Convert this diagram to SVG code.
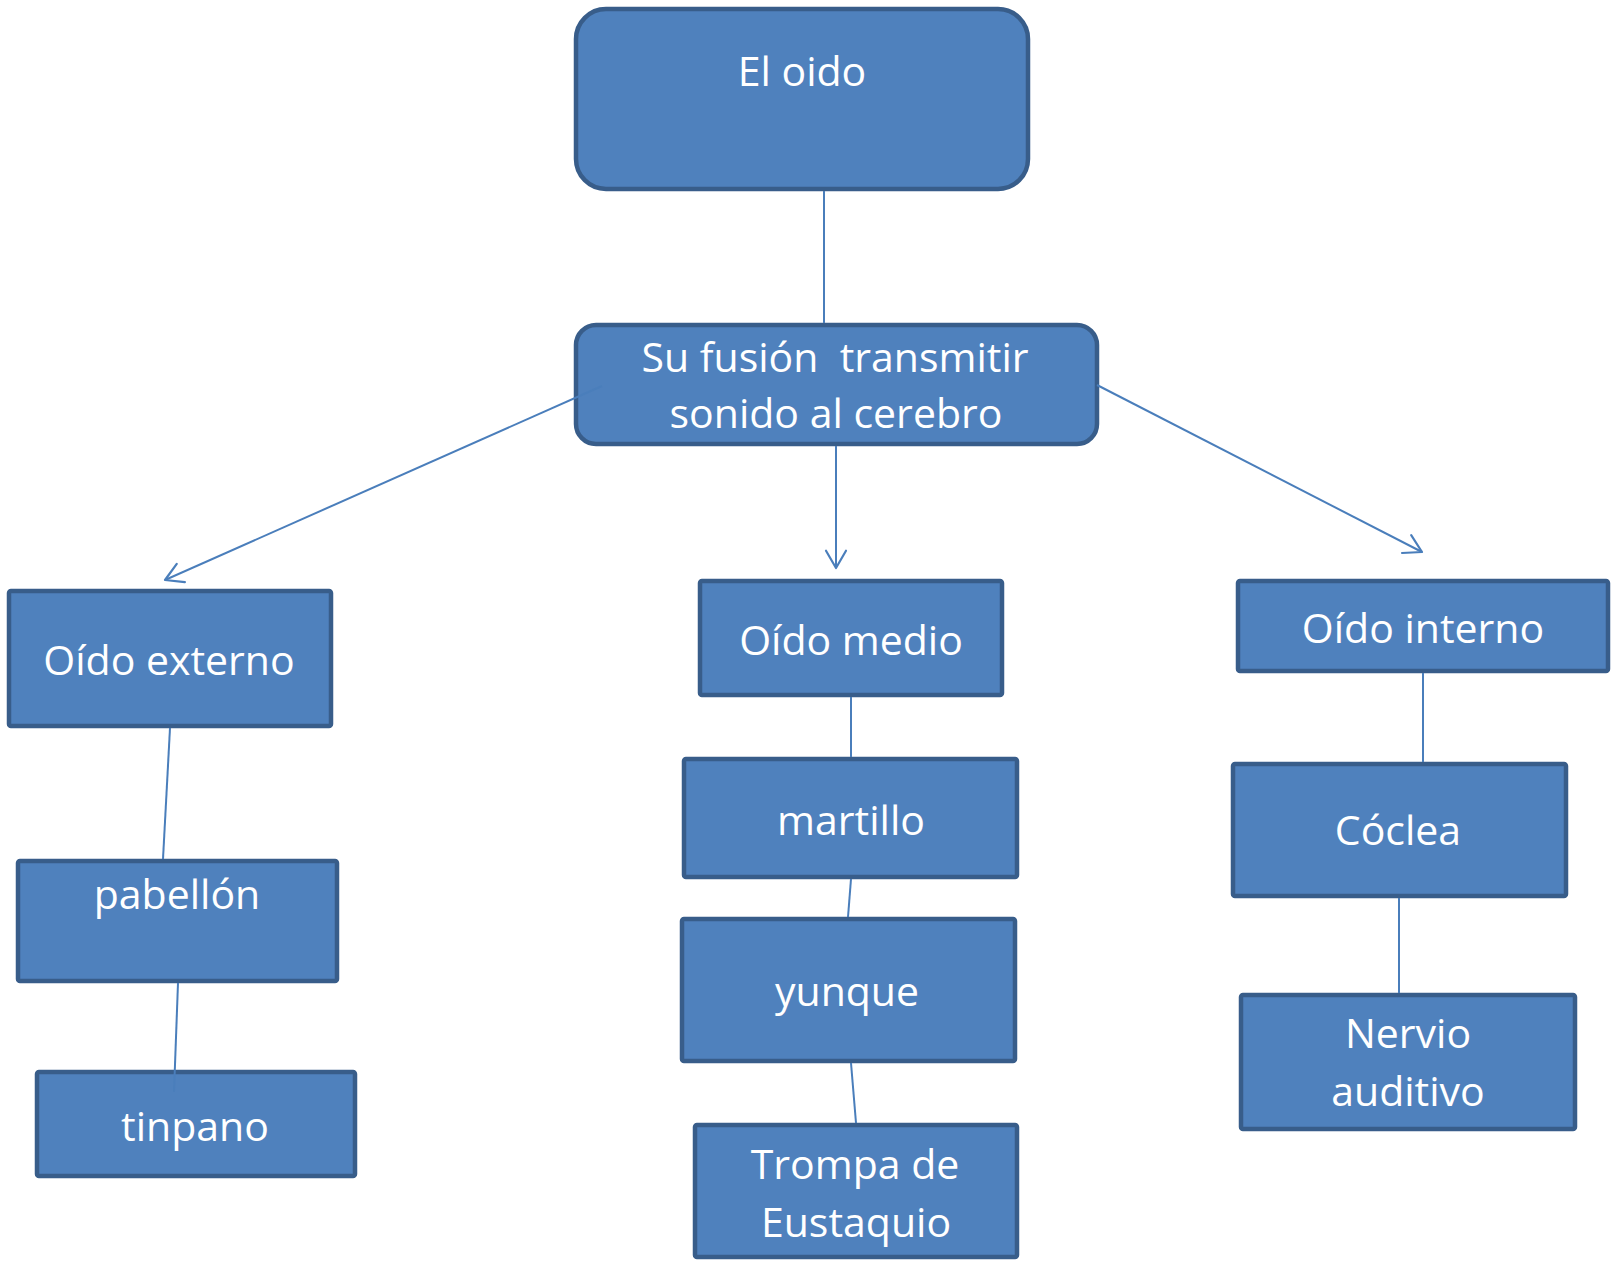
<svg xmlns="http://www.w3.org/2000/svg" width="1614" height="1261" viewBox="0 0 1614 1261">
<style>
.box{fill:#4f81bd;stroke:#385d8a;stroke-width:4.5}
.lbl{font-family:"Open Sans","Liberation Sans",sans-serif;font-size:41px;fill:#ffffff;text-anchor:middle;white-space:pre}
.con{stroke:#4a7ebb;stroke-width:2;fill:none}
</style>
<defs>
<marker id="arr" markerUnits="userSpaceOnUse" markerWidth="40" markerHeight="40" viewBox="-20 -20 40 40" refX="0" refY="0" orient="auto">
<path d="M -17.3 -10 L 0 0 L -17.3 10" fill="none" stroke="#4a7ebb" stroke-width="2.2" stroke-linecap="round" stroke-linejoin="round"/>
</marker>
</defs>
<rect width="1614" height="1261" fill="#ffffff"/>
<g id="n-oido">
<rect class="box" x="576" y="9" width="452" height="180" rx="30"/>
<text class="lbl" x="802" y="86">El oido</text>
</g>
<g id="n-funcion">
<rect class="box" x="576" y="325" width="521" height="119" rx="20"/>
<text class="lbl" x="835" y="372" xml:space="preserve">Su fusión  transmitir</text>
<text class="lbl" x="836" y="428">sonido al cerebro</text>
</g>
<g id="n-externo">
<rect class="box" x="9" y="591" width="322" height="135" rx="2"/>
<text class="lbl" x="169" y="675">Oído externo</text>
</g>
<g id="n-medio">
<rect class="box" x="700" y="581" width="302" height="114" rx="2"/>
<text class="lbl" x="851" y="655">Oído medio</text>
</g>
<g id="n-interno">
<rect class="box" x="1238" y="581" width="370" height="90" rx="2"/>
<text class="lbl" x="1423" y="643">Oído interno</text>
</g>
<g id="n-pabellon">
<rect class="box" x="18" y="861" width="319" height="120" rx="2"/>
<text class="lbl" x="177" y="909">pabellón</text>
</g>
<g id="n-tinpano">
<rect class="box" x="37" y="1072" width="318" height="104" rx="2"/>
<text class="lbl" x="195" y="1141">tinpano</text>
</g>
<g id="n-martillo">
<rect class="box" x="684" y="759" width="333" height="118" rx="2"/>
<text class="lbl" x="851" y="835">martillo</text>
</g>
<g id="n-yunque">
<rect class="box" x="682" y="919" width="333" height="142" rx="2"/>
<text class="lbl" x="847" y="1006">yunque</text>
</g>
<g id="n-trompa">
<rect class="box" x="695" y="1125" width="322" height="132" rx="2"/>
<text class="lbl" x="855" y="1179">Trompa de</text>
<text class="lbl" x="856" y="1237">Eustaquio</text>
</g>
<g id="n-coclea">
<rect class="box" x="1233" y="764" width="333" height="132" rx="2"/>
<text class="lbl" x="1398" y="845">Cóclea</text>
</g>
<g id="n-nervio">
<rect class="box" x="1241" y="995" width="334" height="134" rx="2"/>
<text class="lbl" x="1408" y="1048">Nervio</text>
<text class="lbl" x="1408" y="1106">auditivo</text>
</g>
<g id="connectors">
<line class="con" x1="824" y1="191" x2="824" y2="323"/>
<line class="con" x1="602" y1="386" x2="165" y2="580" marker-end="url(#arr)"/>
<line class="con" x1="836" y1="446" x2="836" y2="568" marker-end="url(#arr)"/>
<line class="con" x1="1097" y1="385" x2="1422" y2="552" marker-end="url(#arr)"/>
<line class="con" x1="170" y1="728" x2="163" y2="859"/>
<line class="con" x1="178" y1="983" x2="174" y2="1092"/>
<line class="con" x1="851" y1="697" x2="851" y2="757"/>
<line class="con" x1="851" y1="879" x2="848" y2="917"/>
<line class="con" x1="851" y1="1063" x2="856" y2="1123"/>
<line class="con" x1="1423" y1="673" x2="1423" y2="762"/>
<line class="con" x1="1399" y1="898" x2="1399" y2="993"/>
</g>
</svg>
